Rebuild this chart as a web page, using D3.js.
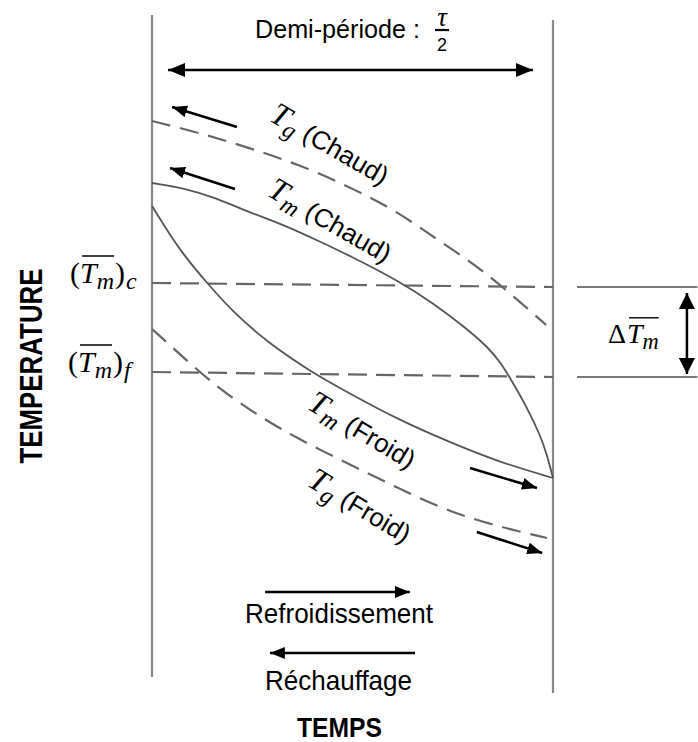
<!DOCTYPE html>
<html lang="fr">
<head>
<meta charset="utf-8">
<title>Températures sur une demi-période</title>
<script src="https://d3js.org/d3.v7.min.js"></script>
<style>
  body { margin: 0; background: #fff; }
  svg { display: block; }
</style>
</head>
<body>
<svg width="698" height="742"></svg>
<script>
// temps : % de la demi-période, température : unités arbitraires
var tgChaudTemps = [0, 12, 24.4, 36.9, 49.4, 61.8, 70.1, 79.3, 87.5, 98.3];
var tgChaudTemp  = [95.8, 93.4, 90.4, 87, 82.6, 77.4, 72.6, 67.8, 62.6, 55];
var tmChaudTemps = [0, 8, 16, 24, 33, 41, 49, 62, 70, 78, 84, 87, 89, 93.5, 97, 98.5, 100];
var tmChaudTemp  = [83.4, 82.4, 80.4, 77.6, 75, 72, 69, 63.6, 59.4, 54.6, 50.4, 47.4, 44.8, 38.6, 32.6, 29, 24.4];
var tmFroidTemps = [0, 3.7, 7.7, 13.7, 20.2, 28.7, 40.1, 49.1, 61.6, 74.1, 86.5, 100];
var tmFroidTemp  = [78.8, 74, 69.2, 63.4, 57.6, 51.6, 45.4, 41.4, 36, 31.6, 27.6, 24.4];
var tgFroidTemps = [0, 7.7, 16.2, 24.4, 34.4, 51.1, 61.8, 74.3, 86.8, 98.5];
var tgFroidTemp  = [54.2, 48.6, 42.6, 38, 33, 26.4, 22.2, 17.6, 14.6, 12.4];
// moyennes (début, fin de la demi-période)
var moyenneChaud = [63.4, 62.6];
var moyenneFroid = [45.6, 44.6];

var sans = "'Liberation Sans', Arial, sans-serif",
    serif = "'Liberation Serif', 'DejaVu Serif', serif";

var svg = d3.select("svg");

var x = d3.scaleLinear().domain([0, 100]).range([152, 553]),
    y = d3.scaleLinear().domain([0, 100]).range([600, 100]);

var ligne = d3.line()
    .curve(d3.curveBasis)
    .x(function(d) { return x(d[0]); })
    .y(function(d) { return y(d[1]); });

function paires(ts, vs) {
  return ts.map(function(t, i) { return [t, vs[i]]; });
}

// pointes de flèches
var defs = svg.append("defs");
function pointe(id, l, h) {
  defs.append("marker")
      .attr("id", id)
      .attr("viewBox", "0 0 " + l + " " + h)
      .attr("refX", l).attr("refY", h / 2)
      .attr("markerWidth", l).attr("markerHeight", h)
      .attr("markerUnits", "userSpaceOnUse")
      .attr("orient", "auto-start-reverse")
    .append("path")
      .attr("d", "M0,0L" + l + "," + (h / 2) + "L0," + h + "Z")
      .attr("fill", "#000");
}
pointe("grande", 17, 14);
pointe("petite", 15, 12);
pointe("verticale", 16, 16);

function fleche(t0, v0, t1, v1, tete, double) {
  var l = svg.append("line")
      .attr("x1", x(t0)).attr("y1", y(v0))
      .attr("x2", x(t1)).attr("y2", y(v1))
      .attr("stroke", "#000")
      .attr("stroke-width", 2.5)
      .attr("marker-end", "url(#" + tete + ")");
  if (double) l.attr("marker-start", "url(#" + tete + ")");
}

// parois
svg.append("line")
    .attr("x1", x(0)).attr("x2", x(0))
    .attr("y1", y(117)).attr("y2", y(-15.4))
    .attr("stroke", "#888").attr("stroke-width", 2.2);
svg.append("line")
    .attr("x1", x(100)).attr("x2", x(100))
    .attr("y1", y(116)).attr("y2", y(-18.6))
    .attr("stroke", "#888").attr("stroke-width", 2.2);

// moyennes
[moyenneChaud, moyenneFroid].forEach(function(m) {
  svg.append("line")
      .attr("x1", x(0)).attr("y1", y(m[0]))
      .attr("x2", x(100)).attr("y2", y(m[1]))
      .attr("stroke", "#666")
      .attr("stroke-width", 2.2)
      .attr("stroke-dasharray", "19,9");
  svg.append("line")
      .attr("x1", x(106)).attr("x2", x(136))
      .attr("y1", y(m[1])).attr("y2", y(m[1]))
      .attr("stroke", "#777").attr("stroke-width", 1.8);
});

// courbes
var courbes = [
  {pts: paires(tgChaudTemps, tgChaudTemp), tirets: true},
  {pts: paires(tmChaudTemps, tmChaudTemp), tirets: false},
  {pts: paires(tmFroidTemps, tmFroidTemp), tirets: false},
  {pts: paires(tgFroidTemps, tgFroidTemp), tirets: true}
];
svg.selectAll(".courbe")
  .data(courbes)
  .enter().append("path")
    .attr("class", "courbe")
    .attr("d", function(d) { return ligne(d.pts); })
    .attr("fill", "none")
    .attr("stroke", function(d) { return d.tirets ? "#666" : "#555"; })
    .attr("stroke-width", function(d) { return d.tirets ? 2.2 : 1.8; })
    .attr("stroke-dasharray", function(d) { return d.tirets ? "19,10" : null; });

// flèches
fleche(4, 106, 95, 106, "grande", true);
fleche(21.2, 94.6, 5.0, 98.6, "petite");
fleche(20.7, 82.2, 4.5, 86.4, "petite");
fleche(79.3, 26.4, 96, 22.4, "petite");
fleche(81, 13.6, 97.3, 9.4, "petite");
fleche(28.2, 1.6, 64.3, 1.6, "petite");
fleche(65.6, -10.6, 29.4, -10.6, "petite");
fleche(133.4, moyenneChaud[1] - 1.2, 133.4, moyenneFroid[1] + 0.6, "verticale", true);

// texte mathématique : morceaux posés les uns après les autres
function texteMath(parent, morceaux, taille) {
  var cx = 0, barre = [];
  morceaux.forEach(function(p) {
    var t = parent.append("text")
        .attr("x", cx)
        .attr("y", p.dy || 0)
        .attr("font-family", p.sans ? sans : serif)
        .attr("font-style", p.it ? "italic" : "normal")
        .attr("font-size", taille * (p.s || 1))
        .text(p.t);
    var w = t.node().getComputedTextLength();
    if (p.barre) barre.push(cx, cx + w);
    cx += w + (p.ecart || 0);
  });
  if (barre.length) {
    parent.append("line")
        .attr("x1", d3.min(barre) + 2).attr("x2", d3.max(barre))
        .attr("y1", -taille * 0.9).attr("y2", -taille * 0.9)
        .attr("stroke", "#000").attr("stroke-width", 1.4);
  }
  return cx;
}

function groupe(px, py, angle) {
  return svg.append("g")
      .attr("transform", "translate(" + px + "," + py + ")" + (angle ? " rotate(" + angle + ")" : ""));
}

// moyennes à gauche
texteMath(groupe(70, 283), [
  {t: "("}, {t: "T", it: true, barre: true},
  {t: "m", it: true, s: 0.8, dy: 6, barre: true, ecart: 1},
  {t: ")", ecart: 1}, {t: "c", it: true, s: 0.8, dy: 6}
], 30);
texteMath(groupe(68, 372), [
  {t: "("}, {t: "T", it: true, barre: true},
  {t: "m", it: true, s: 0.8, dy: 6, barre: true, ecart: 1},
  {t: ")", ecart: 1}, {t: "f", it: true, s: 0.8, dy: 6}
], 30);

// écart des moyennes
texteMath(groupe(608, 343), [
  {t: "\u0394", ecart: 1}, {t: "T", it: true, barre: true},
  {t: "m", it: true, s: 0.8, dy: 6, barre: true}
], 28);

// étiquettes des courbes
function etiquette(px, py, angle, indice, nom) {
  var g = groupe(px, py, angle);
  var w = texteMath(g, [{t: "T", it: true}, {t: indice, it: true, s: 0.75, dy: 6}], 32);
  g.append("text")
      .attr("x", w + 8)
      .attr("font-family", sans)
      .attr("font-size", 26)
      .text(nom);
}
etiquette(268, 120, 30, "g", "(Chaud)");
etiquette(266, 195, 30, "m", "(Chaud)");
etiquette(306, 408, 31, "m", "(Froid)");
etiquette(306, 485, 31, "g", "(Froid)");

// titre : demi-période
svg.append("text")
    .attr("x", 255).attr("y", 38)
    .attr("font-family", sans).attr("font-size", 25)
    .attr("textLength", 165).attr("lengthAdjust", "spacingAndGlyphs")
    .text("Demi-période :");
svg.append("text")
    .attr("x", 442).attr("y", 26)
    .attr("text-anchor", "middle")
    .attr("font-family", serif).attr("font-style", "italic").attr("font-size", 27)
    .text("\u03C4");
svg.append("line")
    .attr("x1", 435).attr("x2", 449).attr("y1", 30).attr("y2", 30)
    .attr("stroke", "#000").attr("stroke-width", 2.2);
svg.append("text")
    .attr("x", 442).attr("y", 51)
    .attr("text-anchor", "middle")
    .attr("font-family", sans).attr("font-size", 18)
    .text("2");

// légende du sens
svg.append("text")
    .attr("x", 339).attr("y", 623)
    .attr("text-anchor", "middle")
    .attr("font-family", sans).attr("font-size", 28)
    .attr("textLength", 188).attr("lengthAdjust", "spacingAndGlyphs")
    .text("Refroidissement");
svg.append("text")
    .attr("x", 338.5).attr("y", 690)
    .attr("text-anchor", "middle")
    .attr("font-family", sans).attr("font-size", 28)
    .attr("textLength", 147).attr("lengthAdjust", "spacingAndGlyphs")
    .text("Réchauffage");

// axes
svg.append("text")
    .attr("x", 339.5).attr("y", 737)
    .attr("text-anchor", "middle")
    .attr("font-family", sans).attr("font-weight", "bold").attr("font-size", 28)
    .attr("textLength", 85).attr("lengthAdjust", "spacingAndGlyphs")
    .text("TEMPS");
svg.append("text")
    .attr("transform", "translate(42,366) rotate(-90)")
    .attr("text-anchor", "middle")
    .attr("font-family", sans).attr("font-weight", "bold").attr("font-size", 32)
    .attr("textLength", 195).attr("lengthAdjust", "spacingAndGlyphs")
    .text("TEMPERATURE");
</script>
</body>
</html>
